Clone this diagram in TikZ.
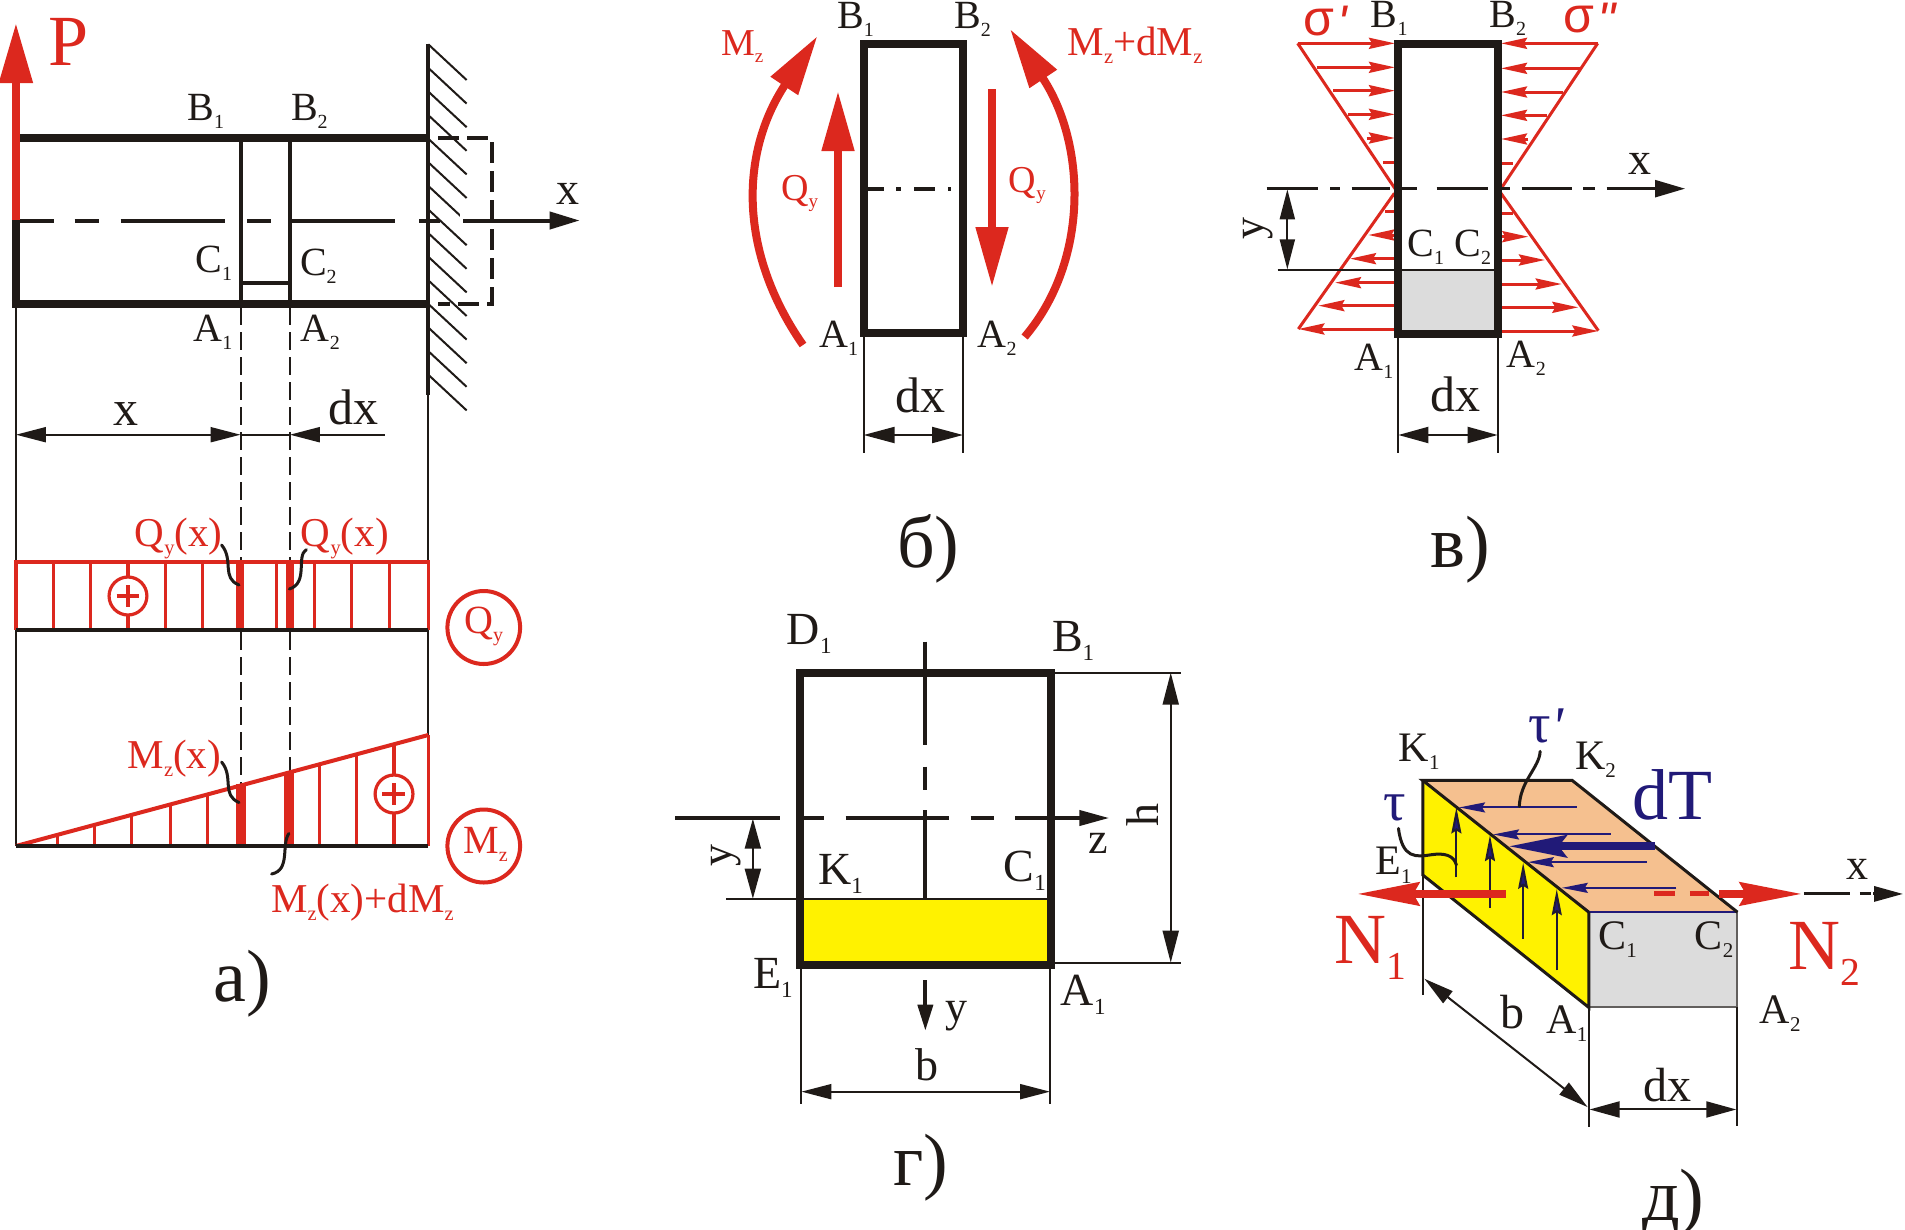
\documentclass[tikz,border=0pt]{standalone}
\usepackage{fontspec}
\usepackage{graphicx}
\setmainfont{Liberation Serif}
\newfontfamily\sigfont{Liberation Sans}
\newfontfamily\tauserif{Liberation Serif}
\usetikzlibrary{arrows.meta}
\definecolor{myred}{HTML}{DC281E}
\definecolor{myblk}{HTML}{1F1A17}
\definecolor{myblue}{HTML}{211A78}
\definecolor{mygray}{HTML}{DCDCDC}
\definecolor{myyel}{HTML}{FFF200}
\definecolor{mypeach}{HTML}{F5C08F}
\newcommand\sbs[1]{\raisebox{-.2em}{\scalebox{.5}{#1}}}
\newcommand\sbn[1]{\raisebox{-.22em}{\scalebox{.55}{#1}}}
\tikzset{
  fz/.style={font=\fontsize{#1}{#1}\selectfont},
  tx/.style={inner sep=0,anchor=base west,text=myblk},
  rtx/.style={inner sep=0,anchor=base west,text=myred},
  btx/.style={inner sep=0,anchor=base west,text=myblue},
  rottx/.style={inner sep=0,anchor=base west,text=myblk,rotate=90},
  heavy/.style={draw=myblk,line width=8pt},
  med/.style={draw=myblk,line width=4pt},
  fine/.style={draw=myblk,line width=2pt},
  redl/.style={draw=myred,line width=3.2pt},
  squig/.style={draw=myblk,line width=3pt,line cap=round},
  DimTip/.tip={Triangle[length=30pt,width=16pt]},
  BigTip/.tip={Triangle[length=60pt,width=31pt]},
  RedTip/.tip={Stealth[length=26pt,width=11pt,inset=3pt]},
  BlueTip/.tip={Stealth[length=26pt,width=10pt,inset=3pt,fill=myblue]},
  NTip/.tip={Stealth[length=62pt,width=23pt,inset=6pt]},
  dTTip/.tip={Stealth[length=58pt,width=22pt,inset=8pt]},
}
\begin{document}
\begin{tikzpicture}[x=1pt,y=-1pt]
\useasboundingbox (0,0) rectangle (1905,1229);
\fill[white] (0,0) rectangle (1905,1229);

%%%%%%%%%%%%%% panel a
\begin{scope}[x=0.996pt]
\foreach \k in {0,...,14}{
  \draw[fine] (430,44.3+23.6*\k) -- (468.5,80+23.6*\k);
}
\fill[white] (462,214) rectangle (470,227);
\draw[draw=myblk,line width=4pt,dash pattern=on 21pt off 8pt] (440,137.5) -- (493.5,137.5) -- (493.5,303.5) -- (440,303.5);
\draw[heavy] (20,137.5) -- (430,137.5);
\draw[heavy] (12,303.5) -- (430,303.5);
\draw[draw=myblk,line width=8pt] (16,220) -- (16,307);
\draw[med] (241.5,137) -- (241.5,303);
\draw[med] (291,137) -- (291,303);
\draw[med] (241.5,283) -- (291,283);
\draw[med] (430,44) -- (430,395);
\foreach \a/\b in {16/54,75/99,121/226,248/272,292/397,421/442}{
  \draw[med] (\a,220.5) -- (\b,220.5);
}
\draw[med,-{Triangle[length=30pt,width=17pt]}] (465,220.5) -- (582,220.5);
\draw[draw=myred,line width=8pt,-{Triangle[length=60pt,width=32pt]}] (16,220) -- (16,23);
\node[rtx,fz=72] (tP) at (48,65) {P};
\node[tx,fz=40] (aB1) at (188,120) {B\sbs{1}};
\node[tx,fz=40] (aB2) at (292,120) {B\sbs{2}};
\node[tx,fz=40] (aC1) at (196,272) {C\sbs{1}};
\node[tx,fz=40] (aC2) at (301,275) {C\sbs{2}};
\node[tx,fz=40] (aA1) at (194,341) {A\sbs{1}};
\node[tx,fz=40] (aA2) at (302,341) {A\sbs{2}};
\node[tx,fz=46] (ax) at (559,204) {x};
\draw[fine] (16,307) -- (16,846);
\draw[fine] (430,395) -- (430,735);
\draw[fine,dash pattern=on 18pt off 7pt] (241.5,307) -- (241.5,790);
\draw[fine,dash pattern=on 18pt off 7pt] (291,307) -- (291,790);
\draw[fine,{DimTip[width=15pt]}-{DimTip[width=15pt]}] (16,434.7) -- (241.5,434.7);
\draw[fine] (241.5,434.7) -- (291,434.7);
\draw[fine,{DimTip[width=15pt]}-] (291,434.7) -- (387,434.7);
\node[tx,fz=50] (axd) at (114,425.7) {x};
\node[tx,fz=50] (adx) at (330,424) {dx};
% Qy
\foreach \x in {16,53.5,91,128.5,166,203.5,278,316,353,391,430}{
  \draw[redl] (\x,562) -- (\x,630);
}
\draw[draw=myred,line width=3.6pt] (14.5,562) -- (431.5,562);
\draw[draw=myred,line width=7.5pt] (241,562) -- (241,630);
\draw[draw=myred,line width=8.5pt] (291,562) -- (291,630);
\draw[draw=myblk,line width=4pt] (16,630) -- (430,630);
\draw[redl,fill=white] (128.5,596) circle (19);
\draw[draw=myred,line width=4pt] (117,596) -- (140,596) (128.5,585) -- (128.5,607);
\node[rtx,fz=41] (qx1) at (135,546) {Q\sbs{y}(x)};
\node[rtx,fz=41] (qx2) at (302,546) {Q\sbs{y}(x)};
\draw[squig] (222.5,545) .. controls (235,560) and (222,578) .. (240,585);
\draw[squig] (307.5,549.6) .. controls (297,556) and (310,583) .. (290.5,589);
\draw[draw=myred,line width=4pt] (485.7,627.5) circle (36.5);
\node[rtx,fz=40] (cq) at (466,633) {Q\sbs{y}};
% Mz
\foreach \x in {58,95,132,171,208,286.5,320.6,358.3,395.6}{
  \pgfmathsetmacro\yt{846-(\x-16)*0.26812}
  \draw[redl] (\x,\yt) -- (\x,846);
}
\draw[redl] (430,735) -- (430,846);
\draw[draw=myred,line width=10pt] (242,783.5) -- (242,846);
\draw[draw=myred,line width=8pt] (291,772) -- (291,846);
\draw[draw=myred,line width=4pt] (16,846) -- (430,735);
\draw[draw=myblk,line width=4pt] (16,846) -- (430,846);
\draw[redl,fill=white] (395.6,794) circle (19);
\draw[draw=myred,line width=4pt] (384,794) -- (407,794) (395.6,783) -- (395.6,805);
\node[rtx,fz=41] (mx1) at (128,768.6) {M\sbs{z}(x)};
\node[rtx,fz=41] (mx2) at (272,912) {M\sbs{z}(x)+dM\sbs{z}};
\draw[squig] (222.5,762) .. controls (235,777) and (222,795) .. (240,802.5);
\draw[squig] (290,833.5) .. controls (282,845) and (292,870) .. (272.7,874);
\draw[draw=myred,line width=4pt] (485.7,846) circle (36.5);
\node[rtx,fz=40] (cm) at (465,853) {M\sbs{z}};
\node[tx,fz=74] (lba) at (214,1001) {а)};
\end{scope}

%%%%%%%%%%%%%% panel b
\draw[draw=myblk,line width=8pt] (863.6,43.7) rectangle (963,333);
\foreach \a/\b in {866/884,896/901,914/935,948/951}{
  \draw[med] (\a,188.7) -- (\b,188.7);
}
\draw[fine] (863.6,337) -- (863.6,453);
\draw[fine] (963,337) -- (963,453);
\draw[fine,{DimTip[length=31pt]}-{DimTip[length=31pt]}] (863.6,435) -- (963,435);
\node[tx,fz=40] (bB1) at (837,28) {B\sbs{1}};
\node[tx,fz=40] (bB2) at (954,28) {B\sbs{2}};
\node[tx,fz=40] (bA1) at (819,347) {A\sbs{1}};
\node[tx,fz=40] (bA2) at (977.5,347) {A\sbs{2}};
\node[tx,fz=50] (bdx) at (895,412) {dx};
\node[rtx,fz=38] (bMz) at (721,55) {M\sbs{z}};
\node[rtx,fz=41] (bMd) at (1067.5,55) {M\sbs{z}+dM\sbs{z}};
\draw[draw=myred,line width=8pt,-{BigTip}] (803,345) .. controls (737,250) and (741,151) .. (817.5,36);
\draw[draw=myred,line width=8pt,-{BigTip}] (1024.6,337) .. controls (1090,260) and (1086,143) .. (1010,29);
\draw[draw=myred,line width=8pt,-{BigTip}] (838,287) -- (838,91);
\draw[draw=myred,line width=8pt,-{BigTip}] (992,89) -- (992,287);
\node[rtx,fz=38] (bQ1) at (781,200) {Q\sbs{y}};
\node[rtx,fz=38] (bQ2) at (1008.6,192) {Q\sbs{y}};
\node[tx,fz=74] (lbb) at (897,567) {б)};

%%%%%%%%%%%%%% panel v
\begin{scope}[shift={(1220,0)},x=0.33333pt,y=-0.33333pt]
\fill[mygray] (535,810) rectangle (833,1003);
\foreach \a/\b/\y in {233/525/130,290/525/202,340/525/272,385/525/343,440/525/414}{
  \draw[draw=myred,line width=3pt,-{RedTip}] (\a,\y) -- (\b,\y);
}
\foreach \a/\b/\y in {1133/843/130,1080/843/205,1030/843/276,980/843/346,925/843/417}{
  \draw[draw=myred,line width=3pt,-{RedTip}] (\a,\y) -- (\b,\y);
}
\foreach \a/\b/\y in {525/235/987,525/295/917,525/345/848,525/390/776,525/445/705}{
  \draw[draw=myred,line width=3pt,-{RedTip}] (\a,\y) -- (\b,\y);
}
\foreach \a/\b/\y in {843/1135/993,843/1075/922,843/1025/852,843/975/780,843/925/710}{
  \draw[draw=myred,line width=3pt,-{RedTip}] (\a,\y) -- (\b,\y);
}
\draw[draw=myred,line width=3pt] (490,487) -- (525,487) (495,635) -- (525,635) (843,489) -- (880,489) (843,640) -- (880,640);
\draw[draw=myred,line width=3pt] (233,130) -- (525,566) (1133,130) -- (843,566) (523,580) -- (235,987) (843,580) -- (1135,992);
\draw[fine] (173,810) -- (833,810);
\foreach \a/\b in {140/295,330/360,395/510,545/590,650/805,840/870,905/1055,1090/1125}{
  \draw[draw=myblk,line width=2.5pt] (\a,566) -- (\b,566);
}
\draw[draw=myblk,line width=2.5pt,-{Triangle[length=30pt,width=17pt]}] (1160,566) -- (1395,566);
\draw[draw=myblk,line width=8pt] (535,131) rectangle (833,1003);
\draw[fine] (535,1005) -- (535,1360);
\draw[fine] (833,1005) -- (833,1360);
\draw[fine,{DimTip[width=16pt]}-{DimTip[width=16pt]}] (535,1305) -- (833,1305);
\draw[fine,{DimTip[width=15pt]}-{DimTip[width=15pt]}] (202,568) -- (202,808);
\node[rottx,fz=44] (vy) at (130,720) {y};
\node[rtx,fz=50] (vs1) at (249,105) {{\sigfont σ\hspace{.06em}\raisebox{-.1em}{\itshape '}}};
\node[rtx,fz=50] (vs2) at (1030,98) {{\sigfont σ\hspace{.06em}\raisebox{-.1em}{\itshape ''}}};
\node[tx,fz=40] (vB1) at (452,82) {B\sbs{1}};
\node[tx,fz=40] (vB2) at (808,82) {B\sbs{2}};
\node[tx,fz=40] (vC1) at (562,770) {C\sbs{1}};
\node[tx,fz=40] (vC2) at (703,770) {C\sbs{2}};
\node[tx,fz=40] (vA1) at (403,1110) {A\sbs{1}};
\node[tx,fz=40] (vA2) at (860,1103) {A\sbs{2}};
\node[tx,fz=46] (vx) at (1225,522) {x};
\node[tx,fz=50] (vdx) at (630,1235) {dx};
\end{scope}
\node[tx,fz=74] (lbv) at (1430,567) {в)};

%%%%%%%%%%%%%% panel g
\begin{scope}[shift={(660,600)},x=0.35714pt,y=-0.33333pt]
\fill[myyel] (392,900) rectangle (1095,1095);
\draw[fine] (185,898) -- (1095,898);
\draw[fine] (1095,218) -- (1460,218);
\draw[fine] (1095,1088) -- (1460,1088);
\foreach \a/\b in {125/435,500/570,630/895}{
  \draw[med] (743,\a) -- (743,\b);
}
\draw[med,-{Triangle[length=26pt,width=15pt]}] (743,1140) -- (743,1292);
\foreach \a/\b in {42/335,400/460,520/810,870/935}{
  \draw[draw=myblk,line width=4pt] (\a,654) -- (\b,654);
}
\draw[draw=myblk,line width=4pt,-{Triangle[length=30pt,width=15pt]}] (995,654) -- (1258,654);
\draw[draw=myblk,line width=8pt] (392,218) rectangle (1095,1095);
\draw[fine,{DimTip}-{DimTip}] (260,656) -- (260,896);
\draw[fine,{DimTip[length=32pt]}-{DimTip[length=32pt]}] (1430,218) -- (1430,1088);
\draw[fine] (396,1100) -- (396,1512);
\draw[fine] (1092,1100) -- (1092,1512);
\draw[fine,{DimTip[width=15pt]}-{DimTip[width=15pt]}] (396,1475) -- (1092,1475);
\node[rottx,fz=46] (gh) at (1395,680) {h};
\node[rottx,fz=44] (gyr) at (200,800) {y};
\node[tx,fz=46] (gb) at (715,1440) {b};
\node[tx,fz=46] (gD) at (355,133) {D\sbs{1}};
\node[tx,fz=46] (gB) at (1097,155) {B\sbs{1}};
\node[tx,fz=46] (gK) at (442,853) {K\sbs{1}};
\node[tx,fz=46] (gC) at (962,845) {C\sbs{1}};
\node[tx,fz=46] (gE) at (260,1165) {E\sbs{1}};
\node[tx,fz=46] (gA) at (1122,1215) {A\sbs{1}};
\node[tx,fz=44] (gz) at (1200,760) {z};
\node[tx,fz=44] (gy) at (800,1265) {y};
\end{scope}
\node[tx,fz=74] (lbg) at (893,1185) {г)};

%%%%%%%%%%%%%% panel d
\begin{scope}[shift={(1300,700)},x=0.3861pt,y=-0.33784pt]
\fill[mypeach] (318,238) -- (705,238) -- (1133,628) -- (748,628) -- cycle;
\fill[myyel] (318,238) -- (748,628) -- (748,910) -- (318,518) -- cycle;
\fill[mygray] (748,628) rectangle (1133,910);
\draw[draw=myblue,line width=1.5pt] (748,628) -- (1133,628);
\draw[draw=myblk!70,line width=2pt] (748,910) -- (1133,910) -- (1133,628);
\draw[draw=myblk,line width=3pt] (748,628) -- (318,238) -- (705,238) -- (1133,628);
\draw[draw=myblk,line width=3pt] (318,238) -- (318,518) -- (748,910) -- (748,628);
\draw[fine] (318,518) -- (318,872);
\draw[fine] (748,910) -- (748,1265);
\draw[fine] (1133,910) -- (1133,1262);
\draw[fine,{DimTip[width=15pt]}-{DimTip[width=15pt]}] (322,825) -- (745,1205);
\draw[fine,{DimTip[width=16pt]}-{DimTip[width=16pt]}] (750,1212) -- (1130,1212);
\foreach \a/\b/\y in {717/412/318,805/500/398,898/590/480,975/678/556}{
  \draw[draw=myblue,line width=2pt,-{BlueTip}] (\a,\y) -- (\b,\y);
}
\foreach \x/\a/\b in {405/525/318,492/615/400,578/707/482,665/800/560}{
  \draw[draw=myblk!70!myblue,line width=2pt,-{BlueTip}] (\x,\a) -- (\x,\b);
}
\draw[draw=myblue,line width=8pt,-{dTTip}] (920,433) -- (540,433);
\draw[draw=myred,line width=7.5pt,-{NTip}] (533,574) -- (148,574);
\draw[draw=myred,line width=5pt] (918,574) -- (970,574) (1010,574) -- (1060,574);
\draw[draw=myred,line width=7.5pt,-{NTip}] (1085,574) -- (1300,574);
\draw[draw=myblk,line width=3pt] (1305,574) -- (1425,574) (1450,574) -- (1478,574);
\draw[draw=myblk,line width=3pt,-{Triangle[length=29pt,width=15pt]}] (1485,574) -- (1562,574);
\draw[squig] (622,152) .. controls (620,200) and (570,240) .. (568,315);
\draw[squig] (255,380) .. controls (265,470) and (300,465) .. (340,458) .. controls (375,452) and (398,460) .. (405,488);
\node[btx,fz=56] (dt1) at (215,358) {τ};
\node[btx,fz=56] (dt2) at (592,125) {{\tauserif τ\raisebox{-.05em}{\itshape '}}};
\node[btx,fz=72] (ddT) at (860,355) {dT};
\node[tx,fz=42] (dK1) at (255,182) {K\sbs{1}};
\node[tx,fz=42] (dK2) at (712,205) {K\sbs{2}};
\node[tx,fz=42] (dE1) at (195,517) {E\sbs{1}};
\node[tx,fz=42] (dC1) at (772,738) {C\sbs{1}};
\node[tx,fz=42] (dC2) at (1022,738) {C\sbs{2}};
\node[tx,fz=42] (dA1) at (638,987) {A\sbs{1}};
\node[tx,fz=42] (dA2) at (1190,957) {A\sbs{2}};
\node[tx,fz=48] (db) at (518,973) {b};
\node[tx,fz=48] (ddx) at (888,1187) {dx};
\node[tx,fz=44] (dx) at (1415,530) {x};
\node[rtx,fz=72] (dN1) at (90,780) {N\sbn{1}};
\node[rtx,fz=72] (dN2) at (1265,797) {N\sbn{2}};
\end{scope}
\node[tx,fz=74] (lbd) at (1642,1220) {д)};
\end{tikzpicture}
\end{document}
